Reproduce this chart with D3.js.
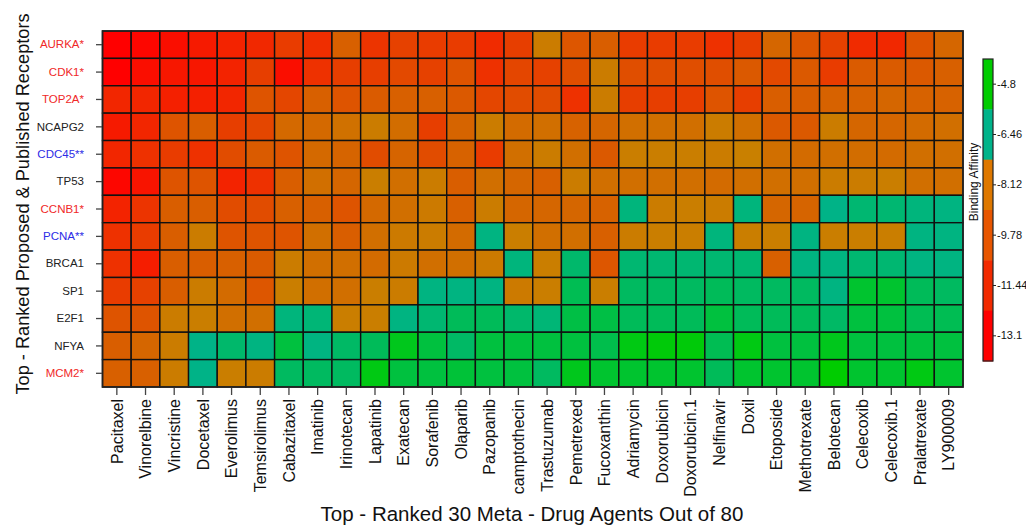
<!DOCTYPE html>
<html>
<head>
<meta charset="utf-8">
<script src="https://cdn.jsdelivr.net/npm/d3@7"></script>
<style>
  html, body { margin: 0; padding: 0; background: #ffffff; }
  svg { display: block; font-family: "Liberation Sans", Arial, sans-serif; }
</style>
</head>
<body>
<svg id="chart" width="1026" height="525"></svg>
<script>
// Receptors (rows) and drug agents (columns)
const receptors = ["AURKA*", "CDK1*", "TOP2A*", "NCAPG2", "CDC45**", "TP53", "CCNB1*",
                   "PCNA**", "BRCA1", "SP1", "E2F1", "NFYA", "MCM2*"];
const receptorGroup = ["pub", "pub", "pub", "none", "prop", "none", "pub",
                       "prop", "none", "none", "none", "none", "pub"];
const drugs = ["Pacitaxel", "Vinorelbine", "Vincristine", "Docetaxel", "Everolimus", "Temsirolimus",
               "Cabazitaxel", "Imatinib", "Irinotecan", "Lapatinib", "Exatecan", "Sorafenib",
               "Olaparib", "Pazopanib", "camptothecin", "Trastuzumab", "Pemetrexed", "Fucoxanthin",
               "Adriamycin", "Doxorubicin", "Doxorubicin.1", "Nelfinavir", "Doxil", "Etoposide",
               "Methotrexate", "Belotecan", "Celecoxib", "Celecoxib.1", "Pralatrexate", "LY900009"];

// Binding affinity (kcal/mol), one row per receptor, one value per drug
const affinity = [
  [-13.1, -12.9, -12.6, -12.2, -11.9, -11.7, -11.0, -11.5, -9.6, -11.3, -10.8, -11.0, -11.0, -11.6, -10.9, -8.3, -10.0, -9.7, -11.0, -11.0, -11.0, -11.4, -10.9, -9.3, -10.0, -10.8, -11.6, -11.7, -10.1, -9.3],
  [-13.1, -12.6, -12.3, -12.3, -11.9, -10.9, -12.6, -11.4, -10.9, -10.9, -10.5, -10.8, -10.1, -11.4, -10.6, -10.8, -10.3, -8.3, -10.3, -10.3, -10.3, -10.3, -9.9, -10.5, -9.9, -11.0, -9.8, -9.8, -9.9, -9.6],
  [-11.8, -11.8, -12.0, -12.0, -11.8, -10.1, -10.6, -9.6, -10.1, -9.8, -9.6, -9.6, -9.9, -10.6, -10.4, -10.4, -11.4, -8.3, -10.9, -10.9, -10.9, -10.1, -10.9, -9.7, -9.7, -9.5, -9.5, -9.3, -9.5, -9.5],
  [-12.2, -11.8, -10.1, -9.7, -10.9, -10.6, -9.2, -9.2, -8.8, -8.3, -9.0, -10.9, -9.4, -8.3, -9.1, -8.9, -9.5, -9.3, -8.9, -8.9, -8.9, -8.3, -8.9, -9.9, -9.9, -8.3, -9.3, -9.3, -9.1, -8.9],
  [-11.8, -11.4, -11.0, -11.4, -10.4, -9.8, -10.1, -9.2, -9.4, -10.4, -9.4, -10.4, -9.5, -11.0, -8.9, -8.3, -8.9, -9.9, -8.2, -8.2, -8.2, -8.3, -8.12, -8.9, -9.1, -8.9, -9.0, -9.1, -8.9, -8.9],
  [-12.9, -12.4, -10.1, -10.1, -11.9, -11.4, -9.7, -8.9, -9.3, -8.2, -8.9, -8.3, -9.7, -8.9, -9.3, -9.6, -8.3, -8.9, -8.9, -8.9, -8.9, -9.1, -8.9, -8.9, -8.9, -8.3, -8.3, -8.2, -8.9, -8.9],
  [-11.9, -11.3, -9.7, -9.7, -10.4, -10.4, -9.6, -9.6, -10.1, -9.2, -8.9, -8.4, -9.6, -8.3, -9.3, -9.3, -9.3, -9.5, -6.5, -8.3, -8.2, -8.3, -6.5, -9.3, -9.4, -6.7, -6.3, -6.3, -6.5, -6.6],
  [-11.4, -11.0, -9.7, -8.3, -10.1, -10.1, -10.1, -8.9, -9.7, -8.9, -8.4, -8.3, -9.1, -6.6, -8.2, -8.9, -8.9, -9.6, -8.3, -8.2, -8.2, -6.5, -8.2, -8.2, -6.6, -8.2, -8.2, -8.2, -6.6, -6.6],
  [-11.4, -12.1, -9.7, -9.7, -9.6, -9.8, -8.3, -8.9, -8.9, -9.1, -8.4, -8.9, -8.9, -8.4, -6.5, -8.2, -6.2, -10.0, -6.3, -6.3, -6.3, -6.3, -6.3, -9.6, -6.6, -6.6, -6.3, -6.3, -6.6, -6.6],
  [-11.0, -10.8, -9.7, -8.3, -9.1, -10.0, -8.2, -8.9, -8.9, -8.2, -8.3, -6.6, -6.6, -6.6, -8.4, -8.2, -5.8, -8.2, -6.0, -6.0, -6.0, -5.9, -6.0, -6.0, -6.0, -6.6, -5.3, -5.3, -5.9, -6.0],
  [-10.1, -10.1, -8.3, -8.2, -8.9, -8.9, -6.5, -6.4, -8.2, -8.2, -6.6, -6.3, -5.9, -5.9, -6.2, -6.4, -5.6, -5.6, -5.9, -5.9, -5.9, -5.5, -5.9, -5.9, -5.9, -6.1, -5.5, -5.5, -5.8, -5.8],
  [-9.7, -9.3, -8.3, -6.7, -6.2, -6.6, -5.5, -6.6, -6.1, -5.9, -5.1, -5.5, -6.1, -5.5, -5.5, -5.5, -5.5, -5.7, -5.0, -4.9, -4.9, -5.8, -5.0, -5.5, -5.5, -5.1, -5.5, -5.5, -5.5, -5.5],
  [-9.6, -9.6, -8.3, -6.7, -8.2, -8.3, -6.0, -6.0, -6.0, -5.0, -5.5, -5.5, -5.4, -5.5, -5.5, -6.0, -5.1, -5.3, -5.3, -5.3, -5.3, -5.9, -5.3, -5.3, -5.3, -4.8, -5.3, -5.3, -5.0, -5.3]
];

// Colour key breaks (top to bottom of the key)
const legendTicks = [-4.8, -6.46, -8.12, -9.78, -11.44, -13.1];
const legendColors = ["#00cc00", "#00b38a", "#de7800", "#e85600", "#f22a00", "#ff0000"];

// Continuous fill for the cells: warm ramp for strong binders, teal-green ramp for weak
const fill = d3.scaleLinear()
  .domain([-13.1, -11.44, -9.78, -8.12, -6.8, -6.0, -5.4, -4.8])
  .range(["#ff0000", "#ee3000", "#da5c00", "#c98000", "#00b28c", "#00ba60", "#00c238", "#00cc00"])
  .clamp(true);

const svg = d3.select("#chart");

const x = d3.scaleBand().domain(drugs).range([102.5, 963]).padding(0);
const y = d3.scaleBand().domain(receptors).range([31, 387]).padding(0);

// Heatmap cells
const cells = [];
affinity.forEach((row, i) => row.forEach((v, j) => cells.push({ r: receptors[i], d: drugs[j], v })));

svg.append("g")
  .selectAll("rect")
  .data(cells)
  .join("rect")
  .attr("x", d => x(d.d))
  .attr("y", d => y(d.r))
  .attr("width", x.bandwidth())
  .attr("height", y.bandwidth())
  .attr("fill", d => fill(d.v))
  .attr("stroke", "#111")
  .attr("stroke-width", 1.4);

// Outer frame
svg.append("rect")
  .attr("x", 102.5).attr("y", 31)
  .attr("width", 963 - 102.5).attr("height", 387 - 31)
  .attr("fill", "none").attr("stroke", "#222").attr("stroke-width", 1.6);

// Bottom axis with vertical drug names
const xAxis = svg.append("g")
  .attr("transform", "translate(0,388)")
  .call(d3.axisBottom(x).tickSize(7).tickSizeOuter(0));
xAxis.select(".domain").remove();
xAxis.selectAll(".tick line").attr("stroke", "#444").attr("stroke-width", 1.3);
xAxis.selectAll(".tick text")
  .attr("transform", "rotate(-90)")
  .attr("x", -11)
  .attr("y", 0)
  .attr("dy", "0.36em")
  .attr("text-anchor", "end")
  .attr("fill", "#111")
  .style("font-size", "16px")
  .style("font-family", "'Liberation Sans', Arial, sans-serif");

// Left axis with receptor names
const groupColor = { pub: "#f02828", prop: "#2c2ce6", none: "#222222" };
const yAxis = svg.append("g")
  .attr("transform", "translate(102,0)")
  .call(d3.axisLeft(y).tickSize(6).tickSizeOuter(0));
yAxis.select(".domain").remove();
yAxis.selectAll(".tick line").attr("stroke", "#444").attr("stroke-width", 1.3);
yAxis.selectAll(".tick text")
  .attr("x", -18)
  .attr("fill", (d, i) => groupColor[receptorGroup[i]])
  .style("font-size", "11.5px")
  .style("font-family", "'Liberation Sans', Arial, sans-serif");

// Axis titles
svg.append("text")
  .attr("x", 532).attr("y", 521)
  .attr("text-anchor", "middle")
  .attr("fill", "#111")
  .style("font-size", "20.5px")
  .text("Top - Ranked 30 Meta - Drug Agents Out of 80");

svg.append("text")
  .attr("transform", "translate(29,204) rotate(-90)")
  .attr("text-anchor", "middle")
  .attr("fill", "#111")
  .style("font-size", "18.2px")
  .text("Top - Ranked Proposed & Published Receptors");

// Colour key
const ky = d3.scaleBand().domain(legendTicks).range([59, 361]).padding(0);
const key = svg.append("g");
key.selectAll("rect")
  .data(legendTicks)
  .join("rect")
  .attr("x", 983)
  .attr("y", d => ky(d))
  .attr("width", 10)
  .attr("height", ky.bandwidth() + 0.5)
  .attr("fill", (d, i) => legendColors[i]);
key.append("rect")
  .attr("x", 983).attr("y", 59).attr("width", 10).attr("height", 302)
  .attr("fill", "none").attr("stroke", "#222").attr("stroke-width", 1.2);

const keyAxis = key.append("g")
  .attr("transform", "translate(993,0)")
  .call(d3.axisRight(ky).tickSize(3).tickSizeOuter(0).tickPadding(1));
keyAxis.select(".domain").remove();
keyAxis.selectAll(".tick line").attr("stroke", "#222");
keyAxis.selectAll(".tick text")
  .attr("fill", "#111")
  .style("font-size", "11px")
  .style("font-family", "'Liberation Sans', Arial, sans-serif");

svg.append("text")
  .attr("transform", "translate(978,182) rotate(-90)")
  .attr("text-anchor", "middle")
  .attr("fill", "#111")
  .style("font-size", "12px")
  .text("Binding Affinity");
</script>
</body>
</html>
